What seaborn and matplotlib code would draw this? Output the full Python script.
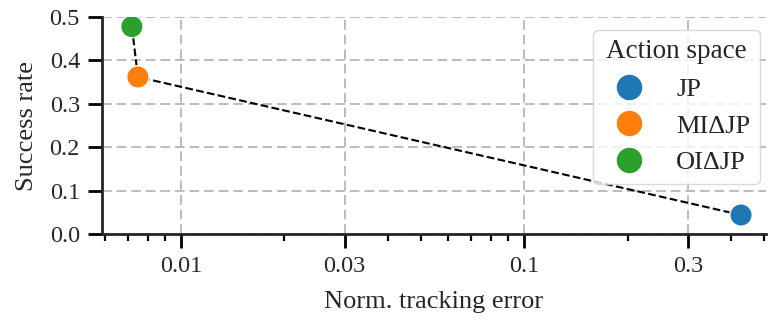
import matplotlib
matplotlib.use("Agg")
import matplotlib.pyplot as plt
import matplotlib.ticker as mticker
import seaborn as sns
import pandas as pd

# Results per action space
action_spaces = ["JP", "MI\u0394JP", "OI\u0394JP"]
tracking_error = [0.428, 0.0075, 0.0072]
success_rate = [0.044, 0.362, 0.478]

palette = ["#1f77b4", "#ff7f0e", "#2ca02c"]

df = pd.DataFrame({
    "Action space": action_spaces,
    "Norm. tracking error": tracking_error,
    "Success rate": success_rate,
})

sns.set_theme(style="ticks")
plt.rcParams["font.family"] = ["Liberation Serif", "DejaVu Serif"]

fig, ax = plt.subplots(figsize=(7.68, 3.22), dpi=100)
fig.subplots_adjust(left=0.133, right=0.997, top=0.947, bottom=0.273)

# Connecting dashed trade-off line (ordered by tracking error)
line_df = df.sort_values("Norm. tracking error")
ax.plot(line_df["Norm. tracking error"], line_df["Success rate"],
        color="black", linestyle="--", linewidth=1.5, zorder=2)

sns.scatterplot(data=df, x="Norm. tracking error", y="Success rate",
                hue="Action space", hue_order=action_spaces, palette=palette,
                s=260, edgecolor="white", linewidth=1.0, zorder=3, ax=ax)

ax.set_xscale("log")
ax.set_xlim(0.0059, 0.505)
ax.set_ylim(0.0, 0.5)
ax.xaxis.set_major_locator(mticker.FixedLocator([0.01, 0.03, 0.1, 0.3]))
ax.xaxis.set_major_formatter(mticker.FixedFormatter(["0.01", "0.03", "0.1", "0.3"]))
ax.xaxis.set_minor_locator(mticker.LogLocator(base=10, subs=range(2, 10)))
ax.xaxis.set_minor_formatter(mticker.NullFormatter())
ax.set_yticks([0.0, 0.1, 0.2, 0.3, 0.4, 0.5])

ax.grid(True, which="major", linestyle=(0, (5, 2.5)), color="#bcbcbc",
        linewidth=1.4)
ax.set_axisbelow(True)

sns.despine(ax=ax)
for sp in ("left", "bottom"):
    ax.spines[sp].set_linewidth(2.0)
ax.tick_params(axis="both", which="major", length=10, width=2.0,
               labelsize=17.5, color="black", pad=6)
ax.tick_params(axis="x", which="minor", length=5, width=1.6, color="black")

ax.set_xlabel("Norm. tracking error", fontsize=19, labelpad=10)
ax.set_ylabel("Success rate", fontsize=19, labelpad=8)

leg = ax.legend(title="Action space", loc="upper right", fontsize=19,
                title_fontsize=19.5, markerscale=1.2, frameon=True,
                borderpad=0.35, labelspacing=0.5, handletextpad=0.8,
                borderaxespad=0.0, bbox_to_anchor=(0.991, 0.94))
leg.get_frame().set_edgecolor("#d0d0d0")
leg.get_frame().set_alpha(0.8)

fig.savefig("out.png", dpi=100)
